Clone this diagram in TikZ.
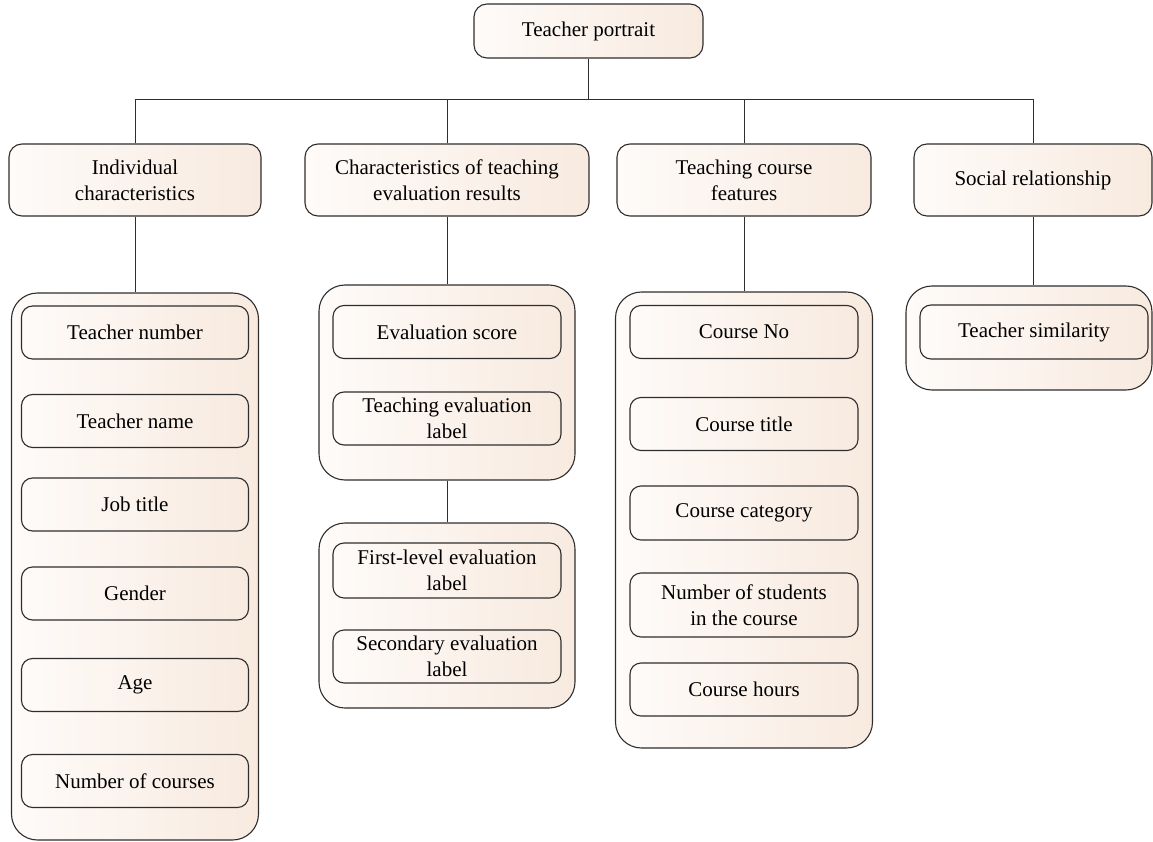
\documentclass[tikz,border=0pt]{standalone}
\usepackage{fontspec}
\setmainfont{Liberation Serif}
\usepackage{xcolor}
\definecolor{BoxLeft}{HTML}{FEFBF9}
\definecolor{BoxRight}{HTML}{F8EADF}
\definecolor{EdgeGray}{HTML}{2E2E2E}
\usepackage{tikz}

\begin{document}
\begin{tikzpicture}[x=1pt, y=-1pt,
    card/.style={draw=EdgeGray, line width=1.1pt, left color=BoxLeft, right color=BoxRight,
        align=center, inner sep=0pt, font=\fontsize{21}{26}\selectfont},
    head/.style={card, rounded corners=13pt, minimum height=72pt},
    group/.style={card, rounded corners=26pt},
    item/.style={card, rounded corners=11pt, minimum width=228pt, minimum height=53pt},
    link/.style={draw=EdgeGray, line width=1pt},
]
% Canvas in pixel units of the reference (y grows downwards)
\useasboundingbox (0,0) rectangle (1153,842);

\def\yHead{180}
\def\yBus{100}

% Root
\node[card, rounded corners=13pt, minimum width=229pt, minimum height=54pt] (root) at (588.5,31) {Teacher portrait};

% Second level
\node[head, minimum width=252pt] (indiv) at (135,\yHead) {Individual\\characteristics};
\node[head, minimum width=284pt] (evalres) at (447,\yHead) {Characteristics of teaching\\evaluation results};
\node[head, minimum width=254pt] (course) at (744,\yHead) {Teaching course\\features};
\node[head, minimum width=238pt] (social) at (1033,\yHead) {Social relationship};

% Groups (drawn first so that items sit on top)
\node[group, minimum width=247pt, minimum height=547pt] (indivG) at (135,566.5) {};
\node[group, minimum width=256pt, minimum height=195pt] (evalA) at (447,382.5) {};
\node[group, minimum width=256pt, minimum height=185pt] (evalB) at (447,615.5) {};
\node[group, minimum width=257pt, minimum height=456pt] (courseG) at (744,520) {};
\node[group, minimum width=246pt, minimum height=104pt] (socialG) at (1029,338) {};

% Items: individual characteristics
\node[item, minimum width=227pt] (tnum) at (135,332.5) {Teacher number};
\node[item, minimum width=227pt] (tname) at (135,421) {Teacher name};
\node[item, minimum width=227pt] (jtitle) at (135,504.5) {Job title};
\node[item, minimum width=227pt] (gender) at (135,593.5) {Gender};
\node[item, minimum width=227pt] (age) at (135,685) {Age};
\node[item, minimum width=227pt] (ncourse) at (135,781) {Number of courses};

% Items: teaching evaluation results
\node[item] (escore) at (447,332) {Evaluation score};
\node[item] (elabel) at (447,418.5) {Teaching evaluation\\label};
\node[item, minimum height=55pt] (first) at (447,570.5) {First-level evaluation\\label};
\node[item] (second) at (447,656.5) {Secondary evaluation\\label};

% Items: teaching course features
\node[item] (cno) at (744,332) {Course No};
\node[item] (ctitle) at (744,424) {Course title};
\node[item, minimum height=54pt] (ccat) at (744,513) {Course category};
\node[item, minimum height=64pt] (cstud) at (744,605) {Number of students\\in the course};
\node[item] (chours) at (744,689.5) {Course hours};

% Items: social relationship
\node[item, minimum height=54pt] (tsim) at (1034,332) {Teacher similarity};

% Connectors
\coordinate (bus) at (588.5,\yBus);
\draw[link] (root.south) -- (bus);
\foreach \n in {indiv, evalres, course, social}
    \draw[link] (\n.north) |- (bus);
\draw[link] (indiv.south) -- (indiv.south |- indivG.north);
\draw[link] (evalres.south) -- (evalres.south |- evalA.north);
\draw[link] (evalA.south) -- (evalB.north);
\draw[link] (course.south) -- (course.south |- courseG.north);
\draw[link] (social.south) -- (social.south |- socialG.north);

\end{tikzpicture}
\end{document}
